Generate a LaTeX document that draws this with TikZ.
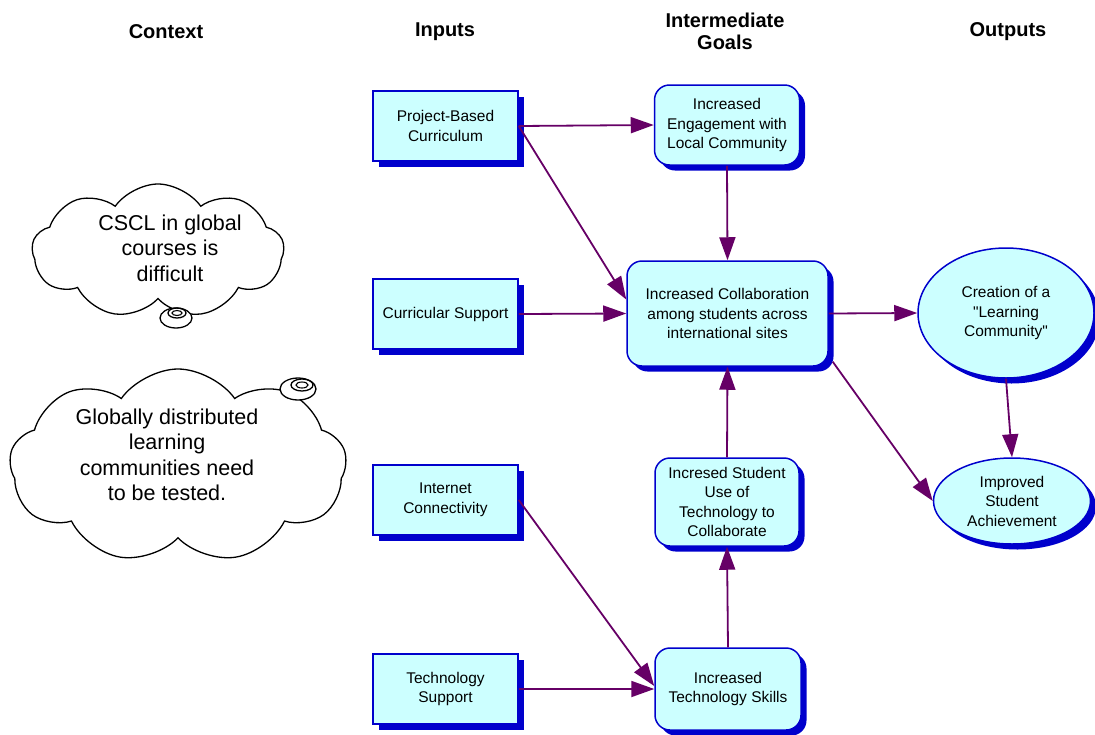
\documentclass[tikz,border=0pt]{standalone}
\usepackage{fontspec}
\setmainfont{Liberation Sans}[Ligatures=TeXOff]
\usetikzlibrary{shapes.geometric,shapes.symbols,shadows,arrows.meta,calc}
\definecolor{boxfill}{RGB}{204,255,255}
\definecolor{boxline}{RGB}{0,0,204}
\definecolor{arrcol}{RGB}{102,0,102}
\begin{document}
\begin{tikzpicture}[x=1pt,y=-1pt,
  base/.style={draw=boxline, line width=1.5pt, fill=boxfill, align=center,
    font=\fontsize{15.5}{19.5}\selectfont, inner sep=2pt,
    drop shadow={shadow xshift=5.5pt, shadow yshift=-5.5pt, fill=boxline, opacity=1, draw=none}},
  inbox/.style={base, rectangle, minimum width=145pt, minimum height=70pt},
  goal/.style={base, rectangle, rounded corners=15pt},
  outell/.style={base, ellipse, inner sep=0pt},
  arr/.style={draw=arrcol, line width=1.8pt, -{Triangle[length=23pt,width=16pt]}},
  hdr/.style={font=\fontsize{20}{22}\selectfont\bfseries, align=center},
  cloudshape/.style={cloud, draw=black, fill=white, line width=1.3pt, cloud puffs=9, cloud puff arc=110, cloud ignores aspect},
  cloudtxt/.style={align=center, font=\fontsize{21.5}{25.5}\selectfont},
  bub/.style={draw=black, fill=white, line width=1.3pt}
]
\useasboundingbox (0,0) rectangle (1095,734);

% headers
\node[hdr] (hctx) at (166,32) {Context};
\node[hdr] (hin) at (445,32) {Inputs};
\node[hdr] (hgoal) at (725,31) {Intermediate\\Goals};
\node[hdr] (hout) at (1008,32) {Outputs};

% clouds
\node[cloudshape, minimum width=252pt, minimum height=134pt] (c1) at (158,251) {};
\draw[bub] (176,318) ellipse [x radius=16, y radius=10];
\draw[line width=1.3pt] (177,313) ellipse [x radius=9, y radius=5];
\draw[line width=1.1pt] (177,313) ellipse [x radius=5, y radius=2.5];
\node[cloudtxt] (t1) at (170,248) {CSCL in global\\courses is\\difficult};

\node[cloudshape, minimum width=337pt, minimum height=194pt] (c2) at (178,466) {};
\draw[bub] (298,389) ellipse [x radius=18, y radius=11];
\draw[line width=1.3pt] (302,385) ellipse [x radius=11, y radius=6];
\draw[line width=1.1pt] (302,385) ellipse [x radius=6, y radius=3];
\node[cloudtxt] (t2) at (167,455) {Globally distributed\\learning\\communities need\\to be tested.};

% inputs
\node[inbox] (pbc) at (445.5,126) {Project-Based\\Curriculum};
\node[inbox] (cs) at (445.5,314) {Curricular Support};
\node[inbox] (ic) at (445.5,500) {Internet\\Connectivity};
\node[inbox] (ts) at (445.5,689) {Technology\\Support};

% intermediate goals
\node[goal, minimum width=145pt, minimum height=80pt] (eng) at (727,125) {Increased\\Engagement with\\Local Community};
\node[goal, minimum width=201pt, minimum height=105pt] (coll) at (727.5,313.5) {Increased Collaboration\\among students across\\international sites};
\node[goal, minimum width=144pt, minimum height=88pt] (use) at (727,502) {Incresed Student\\Use of\\Technology to\\Collaborate};
\node[goal, minimum width=146pt, minimum height=82pt] (skill) at (728,689) {Increased\\Technology Skills};

% outputs
\node[outell, minimum width=176pt, minimum height=130pt] (lc) at (1006,313) {Creation of a\\"Learning\\Community"};
\node[outell, minimum width=157pt, minimum height=86pt] (ach) at (1012,501) {Improved\\Student\\Achievement};

% connectors
\draw[arr] (pbc.east) -- (eng.west);
\draw[arr] (pbc.east) -- ([yshift=14pt]coll.west);
\draw[arr] (cs.east) -- (coll.west);
\draw[arr] (eng.south) -- (coll.north);
\draw[arr] (use.north) -- (coll.south);
\draw[arr] (skill.north) -- (use.south);
\draw[arr] (ic.east) -- ([yshift=3pt]skill.west);
\draw[arr] (ts.east) -- (skill.west);
\draw[arr] (coll.east) -- (lc.west);
\draw[arr] ([xshift=4pt,yshift=5pt]coll.south east) -- (ach.west);
\draw[arr] (lc.south) -- (ach.north);
\end{tikzpicture}
\end{document}
